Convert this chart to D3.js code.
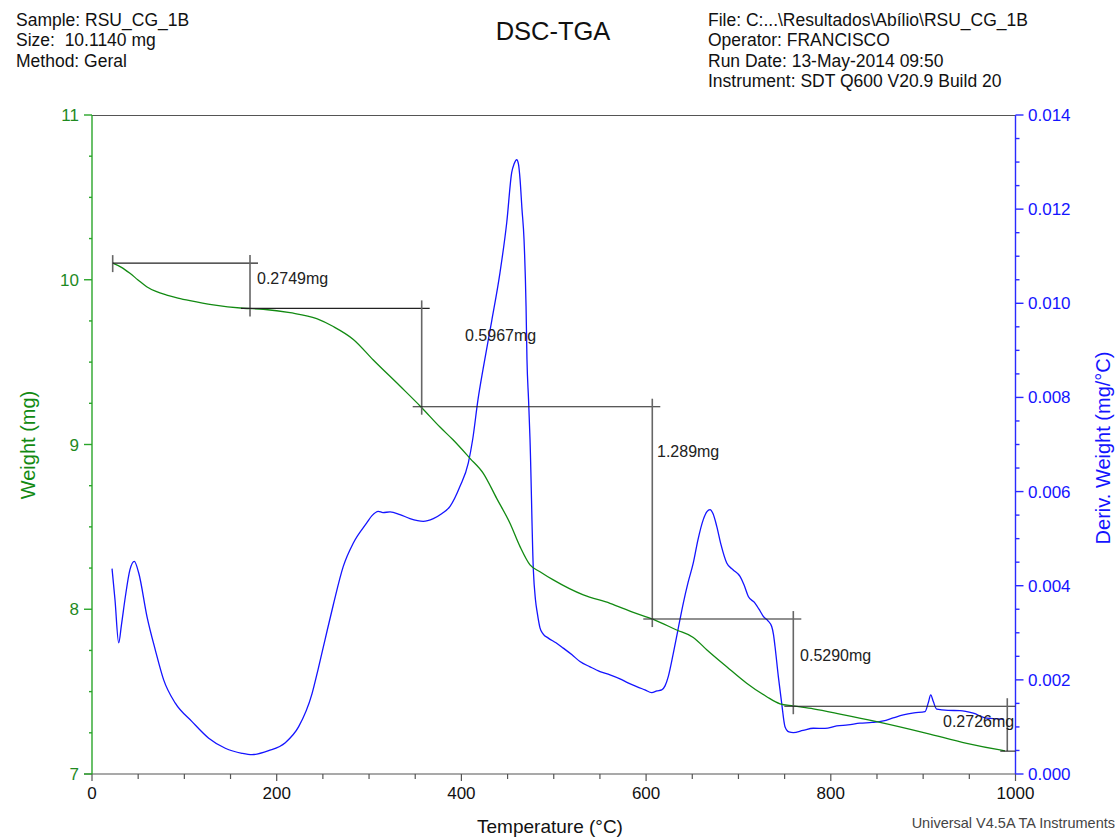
<!DOCTYPE html>
<html>
<head>
<meta charset="utf-8">
<script src="https://cdn.jsdelivr.net/npm/d3@7"></script>
<style>
  html, body { margin: 0; padding: 0; background: #fff; }
  svg { display: block; font-family: "Liberation Sans", Arial, sans-serif; }
</style>
</head>
<body>
<svg id="chart" width="1119" height="838"></svg>
<script>
// ---------------- data ----------------
const headerLeft = ["Sample: RSU_CG_1B", "Size:  10.1140 mg", "Method: Geral"];
const headerRight = ["File: C:...\\Resultados\\Abílio\\RSU_CG_1B", "Operator: FRANCISCO", "Run Date: 13-May-2014 09:50", "Instrument: SDT Q600 V20.9 Build 20"];
const chartTitle = "DSC-TGA";
const xTitle = "Temperature (°C)";
const yLeftTitle = "Weight (mg)";
const yRightTitle = "Deriv. Weight (mg/°C)";
const footer = "Universal V4.5A TA Instruments";

const xTicks = [0, 200, 400, 600, 800, 1000];
const yLeftTicks = [7, 8, 9, 10, 11];
const yRightTicks = [0.000, 0.002, 0.004, 0.006, 0.008, 0.010, 0.012, 0.014];

// Weight (mg) vs temperature (°C)
const weightT = [22.4, 31.4, 41.1, 49.8, 59.2, 69.3, 80.9, 93.1, 106.1, 131.3, 163.8, 185.5, 214.4, 243.3, 261.3, 283.0, 304.6, 333.5, 356.3, 376.8, 391.2, 409.3, 423.7, 438.2, 452.6, 463.5, 474.3, 485.1, 499.5, 532.0, 560.9, 586.1, 607.8, 633.1, 651.1, 665.9, 687.3, 708.9, 730.6, 745.0, 759.4, 781.1, 810.0, 849.7, 903.9, 947.2, 983.2, 988.6];
const weightMg = [10.101, 10.077, 10.039, 9.999, 9.958, 9.929, 9.907, 9.889, 9.873, 9.847, 9.827, 9.821, 9.800, 9.764, 9.716, 9.638, 9.513, 9.355, 9.228, 9.106, 9.027, 8.916, 8.825, 8.673, 8.522, 8.380, 8.269, 8.228, 8.178, 8.087, 8.036, 7.981, 7.939, 7.874, 7.829, 7.753, 7.651, 7.551, 7.469, 7.426, 7.413, 7.395, 7.364, 7.318, 7.247, 7.186, 7.146, 7.141];

// Derivative weight (mg/°C) vs temperature (°C)
const derivT = [21.7, 24.9, 28.9, 31.9, 36.1, 41.1, 45.8, 50.6, 59.6, 68.5, 77.6, 90.2, 108.3, 126.4, 144.3, 162.4, 173.3, 191.3, 209.3, 223.8, 238.2, 244.7, 252.3, 261.3, 272.1, 283.0, 297.5, 303.2, 310.0, 315.1, 322.7, 333.5, 344.3, 358.7, 369.6, 379.0, 387.7, 398.5, 407.5, 412.2, 418.0, 423.4, 432.8, 441.8, 449.1, 454.5, 457.0, 459.9, 461.8, 463.5, 465.6, 467.8, 470.0, 471.0, 472.7, 474.3, 477.9, 480.2, 482.2, 485.1, 488.4, 494.1, 502.4, 510.3, 519.8, 528.4, 539.3, 550.1, 560.9, 571.7, 580.4, 589.8, 598.8, 606.1, 611.8, 616.9, 620.5, 624.0, 629.5, 634.5, 640.3, 645.4, 651.1, 656.2, 661.9, 665.9, 669.2, 672.4, 676.5, 681.1, 687.3, 694.1, 701.7, 706.0, 710.7, 717.9, 723.3, 726.9, 732.0, 736.0, 738.0, 739.6, 743.2, 746.8, 750.4, 754.7, 759.4, 769.9, 781.1, 793.7, 806.4, 818.6, 831.6, 844.6, 856.9, 867.4, 878.5, 890.1, 902.0, 905.6, 908.2, 911.0, 914.7, 926.9, 939.9, 954.3, 968.8, 981.1, 987.6];
const derivW = [0.004362, 0.003702, 0.002787, 0.003170, 0.003766, 0.004340, 0.004517, 0.004270, 0.003340, 0.002638, 0.002000, 0.001504, 0.001113, 0.000760, 0.000547, 0.000440, 0.000411, 0.000496, 0.000666, 0.001006, 0.001702, 0.002213, 0.002851, 0.003596, 0.004411, 0.004909, 0.005334, 0.005489, 0.005581, 0.005553, 0.005568, 0.005511, 0.005426, 0.005368, 0.005426, 0.005532, 0.005687, 0.006113, 0.006611, 0.007106, 0.007957, 0.008596, 0.009623, 0.010653, 0.011717, 0.012781, 0.012957, 0.013049, 0.012957, 0.012638, 0.012000, 0.011362, 0.009943, 0.008809, 0.007957, 0.007106, 0.004340, 0.003702, 0.003419, 0.003106, 0.002979, 0.002887, 0.002787, 0.002674, 0.002532, 0.002389, 0.002277, 0.002177, 0.002106, 0.002021, 0.001936, 0.001857, 0.001787, 0.001730, 0.001766, 0.001787, 0.001872, 0.002070, 0.002568, 0.003064, 0.003632, 0.004064, 0.004483, 0.004979, 0.005404, 0.005574, 0.005617, 0.005532, 0.005262, 0.004872, 0.004483, 0.004340, 0.004198, 0.004021, 0.003772, 0.003632, 0.003468, 0.003347, 0.003255, 0.003134, 0.002957, 0.002709, 0.002070, 0.001504, 0.001006, 0.000894, 0.000879, 0.000926, 0.000972, 0.000968, 0.001021, 0.001043, 0.001079, 0.001096, 0.001128, 0.001191, 0.001255, 0.001298, 0.001326, 0.001517, 0.001681, 0.001538, 0.001377, 0.001351, 0.001347, 0.001291, 0.001185, 0.001170, 0.001160];

// Weight-change steps
const stepTemps = [22.4, 171.1, 357.0, 606.7, 759.4, 991.1];
const stepStartWeight = 10.101;
const stepLosses = [0.2749, 0.5967, 1.289, 0.5290, 0.2726];
const stepLabels = ["0.2749mg", "0.5967mg", "1.289mg", "0.5290mg", "0.2726mg"];
const stepLabelT = [178.7, 403.9, 611.8, 766.7, 921.5];
const stepLabelW = [10.011, 9.665, 8.961, 7.722, 7.324];

// ---------------- layout ----------------
const L = 92, R = 1015.5, T = 115, B = 774;
const svg = d3.select("#chart");
const x = d3.scaleLinear().domain([0, 1000]).range([L, R]);
const yL = d3.scaleLinear().domain([7, 11]).range([B, T]);
const yR = d3.scaleLinear().domain([0, 0.014]).range([B, T]);

const GREEN = "#128a12", GREEN_AX = "#2aa52a", BLUE = "#1414ff", BLUE_AX = "#2a2aff";

// top border
svg.append("line").attr("x1", L).attr("x2", R).attr("y1", T + 0.5).attr("y2", T + 0.5)
  .attr("stroke", "#555").attr("stroke-width", 1.2);

// bottom axis
const xMinor = d3.range(0, 1001, 50);
const gx = svg.append("g");
gx.append("line").attr("x1", L - 8).attr("x2", R).attr("y1", B).attr("y2", B).attr("stroke", "#555").attr("stroke-width", 1.2);
gx.selectAll(".mx").data(xMinor).join("line")
  .attr("x1", d => x(d)).attr("x2", d => x(d)).attr("y1", B).attr("y2", d => B + (d % 200 === 0 ? 7 : 5))
  .attr("stroke", "#555").attr("stroke-width", 1.2);
gx.selectAll("text").data(xTicks).join("text")
  .attr("x", d => x(d)).attr("y", 799).attr("text-anchor", "middle")
  .attr("font-size", 17).attr("fill", "#111").text(d => d);

// left axis
const yLMinor = d3.range(7, 11.001, 0.25);
const gl = svg.append("g");
gl.append("line").attr("x1", L).attr("x2", L).attr("y1", T).attr("y2", B).attr("stroke", GREEN_AX).attr("stroke-width", 1.4);
gl.selectAll(".t").data(yLMinor).join("line")
  .attr("x1", L).attr("x2", d => L - (Math.abs(d - Math.round(d)) < 1e-6 ? 8 : 3))
  .attr("y1", d => yL(d)).attr("y2", d => yL(d)).attr("stroke", GREEN_AX).attr("stroke-width", 1.4);
gl.selectAll("text").data(yLeftTicks).join("text")
  .attr("x", 79).attr("y", d => yL(d) + 6).attr("text-anchor", "end")
  .attr("font-size", 17).attr("fill", "#1f8a1f").text(d => d);

// right axis
const yRMinor = d3.range(0, 28.5, 1).map(i => i * 0.0005);
const gr = svg.append("g");
gr.append("line").attr("x1", R).attr("x2", R).attr("y1", T).attr("y2", B).attr("stroke", BLUE_AX).attr("stroke-width", 1.4);
gr.selectAll(".t").data(yRMinor).join("line")
  .attr("x1", R).attr("x2", (d, i) => R + (i % 4 === 0 ? 8 : 4))
  .attr("y1", d => yR(d)).attr("y2", d => yR(d)).attr("stroke", BLUE_AX).attr("stroke-width", 1.4);
gr.selectAll("text").data(yRightTicks).join("text")
  .attr("x", 1028).attr("y", d => yR(d) + 6).attr("text-anchor", "start")
  .attr("font-size", 17).attr("fill", BLUE).text(d => d3.format(".3f")(d));

// curves
const weightData = weightT.map((t, i) => [t, weightMg[i]]);
const derivData = derivT.map((t, i) => [t, derivW[i]]);
svg.append("path").datum(derivData)
  .attr("d", d3.line().x(d => x(d[0])).y(d => yR(d[1])).curve(d3.curveMonotoneX))
  .attr("fill", "none").attr("stroke", BLUE).attr("stroke-width", 1.3);
svg.append("path").datum(weightData)
  .attr("d", d3.line().x(d => x(d[0])).y(d => yL(d[1])).curve(d3.curveMonotoneX))
  .attr("fill", "none").attr("stroke", GREEN).attr("stroke-width", 1.3);

// step annotations
const stepW = [stepStartWeight];
stepLosses.forEach(l => stepW.push(stepW[stepW.length - 1] - l));
const ga = svg.append("g");
ga.append("line").attr("x1", x(stepTemps[0])).attr("x2", x(stepTemps[0]))
  .attr("y1", yL(stepW[0]) - 8).attr("y2", yL(stepW[0]) + 9).attr("stroke", "#666").attr("stroke-width", 1.6);
stepLosses.forEach((l, i) => {
  const xs = x(stepTemps[i]), xe = x(stepTemps[i + 1]);
  const ys = yL(stepW[i]), ye = yL(stepW[i + 1]);
  ga.append("line").attr("x1", i === 0 ? xs : xs - 9).attr("x2", xe + 8)
    .attr("y1", ys).attr("y2", ys).attr("stroke", "#222").attr("stroke-width", 1.1);
  ga.append("line").attr("x1", xe).attr("x2", xe)
    .attr("y1", ys - 8).attr("y2", i === stepLosses.length - 1 ? ye : ye + 8)
    .attr("stroke", "#666").attr("stroke-width", 1.6);
  ga.append("text").attr("x", x(stepLabelT[i])).attr("y", yL(stepLabelW[i]) + 6)
    .attr("font-size", 16).attr("fill", "#222").text(stepLabels[i]);
});
const last = stepTemps.length - 1;
ga.append("line").attr("x1", x(stepTemps[last]) - 7).attr("x2", R)
  .attr("y1", yL(stepW[last])).attr("y2", yL(stepW[last])).attr("stroke", "#222").attr("stroke-width", 1.1);

// header texts
svg.append("g").selectAll("text").data(headerLeft).join("text")
  .attr("x", 16).attr("y", (d, i) => 26 + i * 20.3).attr("font-size", 17.5).attr("fill", "#111")
  .style("white-space", "pre").text(d => d);
svg.append("g").selectAll("text").data(headerRight).join("text")
  .attr("x", 708).attr("y", (d, i) => 26 + i * 20.3).attr("font-size", 17.5).attr("fill", "#111").text(d => d);
svg.append("text").attr("x", 553).attr("y", 40).attr("text-anchor", "middle")
  .attr("font-size", 25.5).attr("fill", "#111").text(chartTitle);

// axis titles
svg.append("text").attr("x", 550).attr("y", 833).attr("text-anchor", "middle")
  .attr("font-size", 19).attr("fill", "#111").text(xTitle);
svg.append("text").attr("transform", "translate(35,445) rotate(-90)").attr("text-anchor", "middle")
  .attr("font-size", 20).attr("fill", GREEN).text(yLeftTitle);
svg.append("text").attr("transform", "translate(1110,448) rotate(-90)").attr("text-anchor", "middle")
  .attr("font-size", 20).attr("fill", BLUE).text(yRightTitle);
svg.append("text").attr("x", 1115).attr("y", 828).attr("text-anchor", "end")
  .attr("font-size", 14.5).attr("fill", "#444").text(footer);
</script>
</body>
</html>
